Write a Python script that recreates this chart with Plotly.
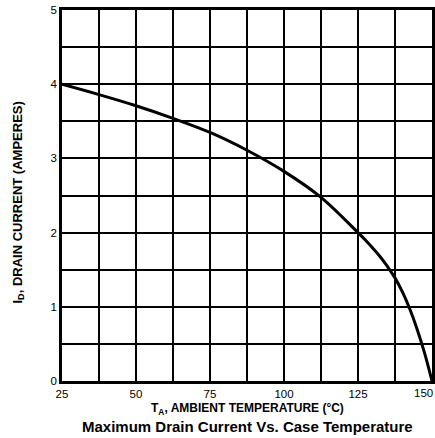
import plotly.graph_objects as go

temp_c = [25, 37.5, 50, 62.5, 75, 87.5, 100, 112.5, 125, 127.5, 130, 132.5, 135,
          137.5, 140, 142.5, 145, 147.5, 150]
drain_a = [4.00, 3.86, 3.71, 3.54, 3.35, 3.11, 2.825, 2.475, 2.00, 1.90, 1.79, 1.675, 1.54,
           1.39, 1.20, 0.97, 0.695, 0.375, 0.0]
x_ticks = [25, 50, 75, 100, 125, 150]
y_ticks = [0, 1, 2, 3, 4, 5]

font = "Liberation Sans, Arial, sans-serif"

fig = go.Figure()
fig.add_trace(go.Scatter(x=temp_c, y=drain_a, mode="lines",
                         line=dict(color="black", width=3, shape="spline", smoothing=1.0),
                         showlegend=False, hoverinfo="skip"))

x_main = x_ticks[:-1]

fig.update_layout(
    width=435, height=438,
    margin=dict(l=62, r=3, t=10, b=57),
    paper_bgcolor="white", plot_bgcolor="white",
    font=dict(family=font, color="black", size=12),
    xaxis=dict(range=[25, 150], tickvals=x_main, ticktext=[str(v) for v in x_main],
               showgrid=True, gridcolor="black", gridwidth=1.5,
               showline=True, linecolor="black", linewidth=2.5, mirror=True,
               ticks="", zeroline=False, tickfont=dict(size=11.5),
               ticklabeloverflow="allow", automargin=False,
               minor=dict(tickvals=[25 + 12.5 * i for i in range(11)], showgrid=True,
                          gridcolor="black", gridwidth=1.5)),
    yaxis=dict(range=[0, 5], tickvals=y_ticks,
               showgrid=True, gridcolor="black", gridwidth=1.5,
               showline=True, linecolor="black", linewidth=2.5, mirror=True,
               ticks="", zeroline=False, tickfont=dict(size=11.5),
               ticklabeloverflow="allow", automargin=False,
               minor=dict(tickvals=[0.5 * i for i in range(11)], showgrid=True,
                          gridcolor="black", gridwidth=1.5)),
    annotations=[
        dict(text=str(x_ticks[-1]), xref="x", yref="paper", x=x_ticks[-1], y=0,
             xanchor="right", yanchor="middle", xshift=3, yshift=-12, showarrow=False,
             font=dict(size=11.5, family=font)),
        dict(text="<b>T<sub>A</sub>, AMBIENT TEMPERATURE (°C)</b>",
             xref="paper", yref="paper", x=0.5, y=0, yshift=-28,
             xanchor="center", yanchor="middle", showarrow=False,
             font=dict(size=12, family=font)),
        dict(text="<b>Maximum Drain Current Vs. Case Temperature</b>",
             xref="paper", yref="paper", x=0.5, y=0, yshift=-45,
             xanchor="center", yanchor="middle", showarrow=False,
             font=dict(size=15, family=font)),
        dict(text="<b>I<sub>D</sub>, DRAIN CURRENT (AMPERES)</b>",
             xref="paper", yref="paper", x=0, xshift=-44, y=0.5, yshift=-7,
             xanchor="center", yanchor="middle", textangle=-90, showarrow=False,
             font=dict(size=13, family=font)),
    ],
)

fig.write_html("out.html")
